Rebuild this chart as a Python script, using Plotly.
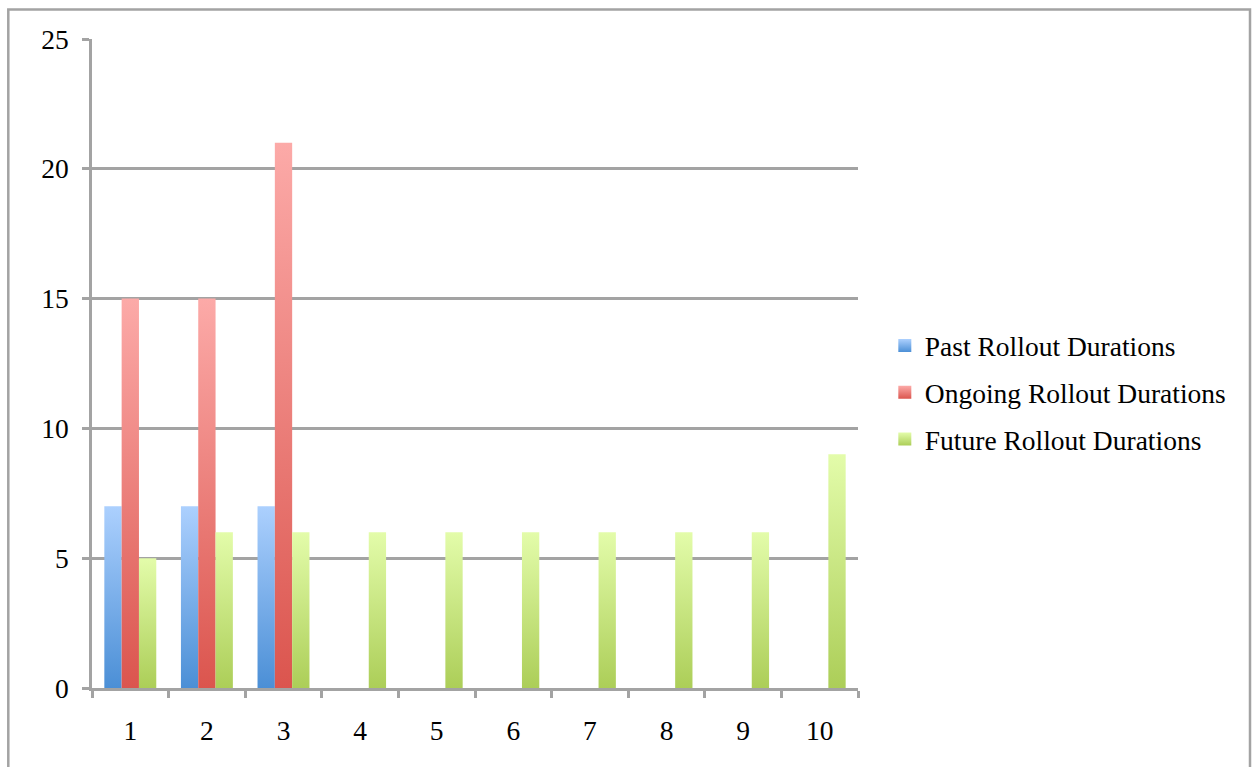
import plotly.graph_objects as go

# Rollout groups on the x axis
categories = [1, 2, 3, 4, 5, 6, 7, 8, 9, 10]

# Durations per rollout group (None = no bar)
past_durations = [7, 7, 7, None, None, None, None, None, None, None]
ongoing_durations = [15, 15, 21, None, None, None, None, None, None, None]
future_durations = [5, 6, 6, 6, 6, 6, 6, 6, 6, 9]

series_names = ["Past Rollout Durations", "Ongoing Rollout Durations", "Future Rollout Durations"]
series_values = [past_durations, ongoing_durations, future_durations]

# (bottom colour, top colour) of each series' vertical gradient
series_colors = [
    ("#4b8fd6", "#acd0fe"),
    ("#db554e", "#fcaaa8"),
    ("#acce58", "#e3fcaa"),
]

y_ticks = [0, 5, 10, 15, 20, 25]

BAR_W = 0.226
GRID = "#a3a3a3"
FONT = "Liberation Serif"
FONT_SIZE = 27.5

fig = go.Figure()

for s, (name, vals, (dark, light)) in enumerate(zip(series_names, series_values, series_colors)):
    offset = (s - 1) * BAR_W
    for cat, v in zip(categories, vals):
        if v is None:
            continue
        x0 = cat + offset - BAR_W / 2
        x1 = x0 + BAR_W
        fig.add_trace(go.Scatter(
            x=[x0, x1, x1, x0, x0],
            y=[0, 0, v, v, 0],
            mode="none",
            fill="toself",
            fillgradient=dict(type="vertical", colorscale=[[0, dark], [1, light]]),
            legendgroup=name,
            showlegend=False,
            hoverinfo="skip",
        ))
    # legend swatch for the series
    fig.add_trace(go.Scatter(
        x=[None], y=[None],
        mode="markers",
        name=name,
        legendgroup=name,
        marker=dict(symbol="square", size=13, color=light,
                    gradient=dict(type="vertical", color=dark),
                    line=dict(width=0)),
    ))

# outer frame around the chart
def px_x(p):
    return (p - 92) / 766

def px_y(p):
    return (688 - p) / 649

fig.add_shape(
    type="path", xref="paper", yref="paper",
    path=f"M {px_x(8.3)},{px_y(790)} L {px_x(8.3)},{px_y(9.5)} L {px_x(1250)},{px_y(9.5)} L {px_x(1250)},{px_y(790)}",
    line=dict(color=GRID, width=2.5),
)

fig.update_layout(
    width=1257, height=767,
    margin=dict(l=92, r=399, t=39, b=79),
    paper_bgcolor="white", plot_bgcolor="white",
    font=dict(family=FONT, size=FONT_SIZE, color="black"),
    showlegend=True,
    legend=dict(x=1.035, y=0.455, xanchor="left", yanchor="middle",
                tracegroupgap=8, itemwidth=30,
                font=dict(family=FONT, size=FONT_SIZE, color="black"),
                bgcolor="rgba(0,0,0,0)"),
    xaxis=dict(
        range=[0.5, 10.5],
        tickvals=categories, ticktext=[str(c) for c in categories],
        ticks="", showgrid=False, zeroline=False,
        showline=True, linecolor=GRID, linewidth=2.5,
        ticklabelstandoff=16,
        minor=dict(tick0=0.5, dtick=1, ticks="outside", ticklen=7,
                   tickcolor=GRID, tickwidth=2.5, showgrid=False),
    ),
    yaxis=dict(
        range=[0, 25], tickvals=y_ticks,
        ticks="outside", ticklen=7, tickcolor=GRID, tickwidth=2.5,
        showgrid=True, gridcolor=GRID, gridwidth=2.5,
        zeroline=False, showline=True, linecolor=GRID, linewidth=2.5,
        ticklabelstandoff=8,
    ),
)

fig.write_html("out.html")
